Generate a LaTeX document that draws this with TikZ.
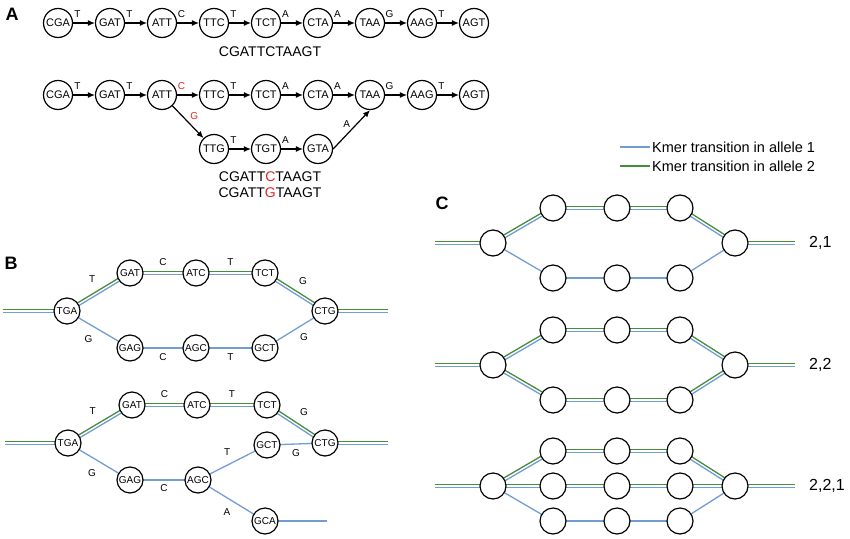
\documentclass[tikz,border=0pt]{standalone}
\usepackage{fontspec}
\setmainfont{Liberation Sans}
\usetikzlibrary{arrows, arrows.meta, positioning, backgrounds}
\definecolor{alleleblue}{RGB}{114,157,210}
\definecolor{allelegreen}{RGB}{72,140,62}
\definecolor{snpred}{RGB}{222,38,38}
\tikzstyle{kmer} = [circle, draw=black, line width=1.2pt, fill=white, minimum size=29pt, inner sep=0pt, font=\fontsize{11}{11}\selectfont]
\tikzstyle{kmer_small} = [kmer, minimum size=26pt, font=\fontsize{10}{10}\selectfont]
\tikzstyle{kmer_empty} = [kmer, minimum size=26pt]
\tikzstyle{kmer_step} = [line width=1.2pt, -{Latex[length=7pt, width=6pt]}]
\tikzstyle{base} = [font=\fontsize{10}{10}\selectfont, inner sep=1pt]
\tikzstyle{allele_one} = [line width=1.3pt, alleleblue, transform canvas={yshift=-1.7pt}]
\tikzstyle{allele_two} = [line width=1.3pt, allelegreen, transform canvas={yshift=1.7pt}]
\tikzstyle{allele_single} = [line width=1.3pt, alleleblue]
\tikzstyle{panel} = [font=\fontsize{18}{18}\selectfont\bfseries, inner sep=0pt]
\tikzstyle{sequence} = [font=\fontsize{14}{14}\selectfont, inner sep=0pt]
\tikzstyle{ploidy} = [font=\fontsize{16}{16}\selectfont, inner sep=2pt]
\tikzstyle{legend_text} = [font=\fontsize{14.5}{14.5}\selectfont, inner sep=2pt, anchor=west]

\begin{document}
\begin{tikzpicture}[x=1pt, y=-1pt]
    \useasboundingbox (0,0) rectangle (850,538);

    % A: reference and alternative allele
    \node[panel] (labelA) at (12,14) {A};
    \foreach \name [count=\i from 0] in {CGA,GAT,ATT,TTC,TCT,CTA,TAA,AAG,AGT} {
        \node[kmer] (ref\name) at ({58+52*\i},23) {\name};
        \node[kmer] (alt\name) at ({58+52*\i},95) {\name};
    }
    \foreach \name [count=\i from 3] in {TTG,TGT,GTA}
        \node[kmer] (alt\name) at ({58+52*\i},149) {\name};

    \foreach \src/\dst/\b in {CGA/GAT/T, GAT/ATT/T, ATT/TTC/C, TTC/TCT/T, TCT/CTA/A, CTA/TAA/A, TAA/AAG/G, AAG/AGT/T}
        \draw[kmer_step] (ref\src) -- node[base, pos=0.2, above=4pt] {\b} (ref\dst);

    \foreach \src/\dst/\b in {CGA/GAT/T, GAT/ATT/T, TTC/TCT/T, TCT/CTA/A, CTA/TAA/A, TAA/AAG/G, AAG/AGT/T, TTG/TGT/T, TGT/GTA/A}
        \draw[kmer_step] (alt\src) -- node[base, pos=0.2, above=4pt] {\b} (alt\dst);
    \draw[kmer_step] (altATT) -- node[base, snpred, pos=0.2, above=4pt] {C} (altTTC);
    \draw[kmer_step] (altATT) -- node[base, snpred, pos=0.5, above right=1pt] {G} (altTTG);
    \draw[kmer_step] (altGTA.east) -- node[base, midway, above left=0pt] {A} (altTAA.south);

    \node[sequence] (refseq) at (270,52) {CGATTCTAAGT};
    \node[sequence] (altseq1) at (270,177) {CGATT\textcolor{snpred}{C}TAAGT};
    \node[sequence] (altseq2) at (270,193) {CGATT\textcolor{snpred}{G}TAAGT};

    % B: bubbles with labelled transitions
    \node[panel] (labelB) at (11,263) {B};
    \node[kmer_small] (b1TGA) at (67,311) {TGA};
    \node[kmer_small] (b1GAT) at (130,273) {GAT};
    \node[kmer_small] (b1ATC) at (196,273) {ATC};
    \node[kmer_small] (b1TCT) at (265,273) {TCT};
    \node[kmer_small] (b1CTG) at (325,311) {CTG};
    \node[kmer_small] (b1GAG) at (130,348) {GAG};
    \node[kmer_small] (b1AGC) at (196,348) {AGC};
    \node[kmer_small] (b1GCT) at (265,348) {GCT};
    \coordinate (b1in) at (3,311);
    \coordinate (b1out) at (388,311);

    \node[kmer_small] (b2TGA) at (68,443) {TGA};
    \node[kmer_small] (b2GAT) at (132,405) {GAT};
    \node[kmer_small] (b2ATC) at (197,405) {ATC};
    \node[kmer_small] (b2TCT) at (267,405) {TCT};
    \node[kmer_small] (b2CTG) at (325,443) {CTG};
    \node[kmer_small] (b2GCT) at (267,445) {GCT};
    \node[kmer_small] (b2GAG) at (130,480) {GAG};
    \node[kmer_small] (b2AGC) at (198,480) {AGC};
    \node[kmer_small] (b2GCA) at (265,521) {GCA};
    \coordinate (b2in) at (5,443);
    \coordinate (b2out) at (388,443);
    \coordinate (b2end) at (327,521);

    \path (b1TGA) -- node[base, above left=8pt and 2pt] {T} (b1GAT);
    \path (b1GAT) -- node[base, above=6pt] {C} (b1ATC);
    \path (b1ATC) -- node[base, above=6pt] {T} (b1TCT);
    \path (b1TCT) -- node[base, above right=6pt and 3pt] {G} (b1CTG);
    \path (b1TGA) -- node[base, below left=5pt and 5pt] {G} (b1GAG);
    \path (b1GAG) -- node[base, below=4pt] {C} (b1AGC);
    \path (b1AGC) -- node[base, below=4pt] {T} (b1GCT);
    \path (b1GCT) -- node[base, below right=3pt and 4pt] {G} (b1CTG);

    \path (b2TGA) -- node[base, above left=8pt and 3pt] {T} (b2GAT);
    \path (b2GAT) -- node[base, above=6pt] {C} (b2ATC);
    \path (b2ATC) -- node[base, above=6pt] {T} (b2TCT);
    \path (b2TCT) -- node[base, above right=7pt and 3pt] {G} (b2CTG);
    \path (b2TGA) -- node[base, below left=7pt and 2pt] {G} (b2GAG);
    \path (b2GAG) -- node[base, below=3pt] {C} (b2AGC);
    \path (b2AGC) -- node[base, above left=6pt and 1pt] {T} (b2GCT);
    \path (b2GCT) -- node[base, below=4pt] {G} (b2CTG);
    \path (b2AGC) -- node[base, below left=7pt and 0pt] {A} (b2GCA);

    % C: bubbles for ploidy patterns
    \node[panel] (labelC) at (442,203) {C};
    \foreach \row/\y in {1/243, 2/365, 3/486} {
        \node[kmer_empty] (c\row-L) at (493,\y) {};
        \node[kmer_empty] (c\row-R) at (735,\y) {};
        \coordinate (c\row-in) at (435,\y);
        \coordinate (c\row-out) at (795,\y);
        \foreach \x [count=\k] in {553,617,680} {
            \node[kmer_empty] (c\row-t\k) at (\x,\y-35) {};
            \node[kmer_empty] (c\row-b\k) at (\x,\y+35) {};
        }
    }
    \foreach \x [count=\k] in {553,617,680}
        \node[kmer_empty] (c3-m\k) at (\x,486) {};

    \node[ploidy, right=12pt of c1-out] (ploidy1) {2,1};
    \node[ploidy, right=12pt of c2-out] (ploidy2) {2,2};
    \node[ploidy, right=12pt of c3-out] (ploidy3) {2,2,1};

    % legend
    \coordinate (leg1a) at (620,147);
    \coordinate (leg2a) at (620,166);
    \node[legend_text] (leg1) at (650,147) {Kmer transition in allele 1};
    \node[legend_text] (leg2) at (650,166) {Kmer transition in allele 2};
    \draw[alleleblue, line width=2.6pt] (leg1a) -- (leg1.west);
    \draw[allelegreen, line width=2.6pt] (leg2a) -- (leg2.west);

    % allele transitions behind the nodes
    \begin{scope}[on background layer]
        \foreach \a/\b in {b1in/b1TGA, b1TGA/b1GAT, b1GAT/b1ATC, b1ATC/b1TCT, b1TCT/b1CTG, b1CTG/b1out,
                           b2in/b2TGA, b2TGA/b2GAT, b2GAT/b2ATC, b2ATC/b2TCT, b2TCT/b2CTG, b2CTG/b2out} {
            \draw[allele_one] (\a.center) -- (\b.center);
            \draw[allele_two] (\a.center) -- (\b.center);
        }
        \foreach \a/\b in {b1TGA/b1GAG, b1GAG/b1AGC, b1AGC/b1GCT, b1GCT/b1CTG,
                           b2TGA/b2GAG, b2GAG/b2AGC, b2AGC/b2GCT, b2GCT/b2CTG, b2AGC/b2GCA, b2GCA/b2end}
            \draw[allele_single] (\a.center) -- (\b.center);

        \foreach \row in {1,2,3}
            \foreach \a/\b in {in/L, L/t1, t1/t2, t2/t3, t3/R, R/out} {
                \draw[allele_one] (c\row-\a.center) -- (c\row-\b.center);
                \draw[allele_two] (c\row-\a.center) -- (c\row-\b.center);
            }
        \foreach \a/\b in {L/b1, b1/b2, b2/b3, b3/R} {
            \draw[allele_one] (c2-\a.center) -- (c2-\b.center);
            \draw[allele_two] (c2-\a.center) -- (c2-\b.center);
            \draw[allele_single] (c1-\a.center) -- (c1-\b.center);
            \draw[allele_single] (c3-\a.center) -- (c3-\b.center);
        }
        \foreach \a/\b in {L/m1, m1/m2, m2/m3, m3/R} {
            \draw[allele_one] (c3-\a.center) -- (c3-\b.center);
            \draw[allele_two] (c3-\a.center) -- (c3-\b.center);
        }
    \end{scope}

\end{tikzpicture}
\end{document}
